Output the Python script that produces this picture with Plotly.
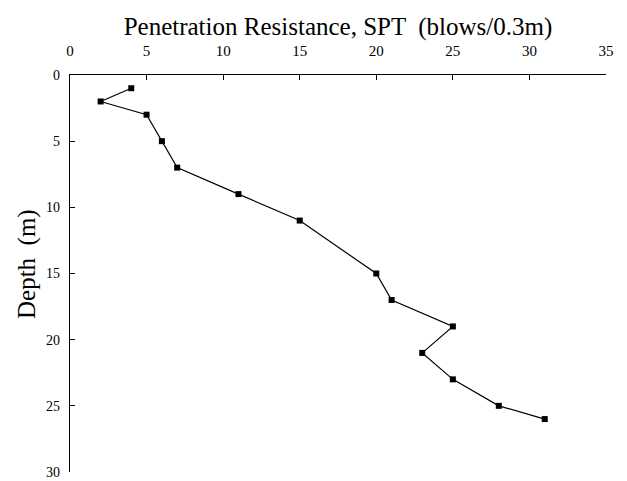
import plotly.graph_objects as go

spt_blows = [4, 2, 5, 6, 7, 11, 15, 20, 21, 25, 23, 25, 28, 31]
depth_m = [1, 2, 3, 5, 7, 9, 11, 15, 17, 19, 21, 23, 25, 26]
x_ticks = [0, 5, 10, 15, 20, 25, 30, 35]
y_ticks = [0, 5, 10, 15, 20, 25, 30]

serif = "Liberation Serif"

fig = go.Figure()
fig.add_trace(go.Scatter(
    x=spt_blows, y=depth_m, mode="lines+markers",
    line=dict(color="black", width=1.2),
    marker=dict(symbol="square", size=6, color="black"),
    showlegend=False,
))

fig.update_layout(
    width=627, height=481,
    margin=dict(l=70, r=21, t=75, b=9),
    paper_bgcolor="white", plot_bgcolor="white",
    font=dict(family=serif, color="black"),
    xaxis=dict(
        side="top", range=[0, 35], tickvals=x_ticks,
        ticks="inside", ticklen=5, tickcolor="black",
        showline=True, linecolor="black", linewidth=1.2,
        showgrid=False, zeroline=False,
        tickfont=dict(size=15, family=serif),
        ticklabelstandoff=12,
        title=dict(text="Penetration Resistance, SPT  (blows/0.3m)",
                   font=dict(size=25, family=serif), standoff=0),
        automargin=False,
    ),
    yaxis=dict(
        range=[30, 0], tickvals=y_ticks,
        ticks="inside", ticklen=5, tickcolor="black",
        showline=True, linecolor="black", linewidth=1.2,
        showgrid=False, zeroline=False,
        tickfont=dict(size=14, family=serif),
        ticklabelstandoff=6,
        automargin=False,
    ),
    annotations=[dict(
        text="Depth  (m)", textangle=-90, showarrow=False,
        xref="paper", yref="paper",
        x=(27 - 70) / 536, y=(472 - 264) / 397,
        xanchor="center", yanchor="middle",
        font=dict(size=25, family=serif, color="black"),
    )],
)

fig.write_html(
    "out.html",
    config={"displayModeBar": False},
    post_script="document.body.style.margin='0';document.body.style.overflow='hidden';",
)
